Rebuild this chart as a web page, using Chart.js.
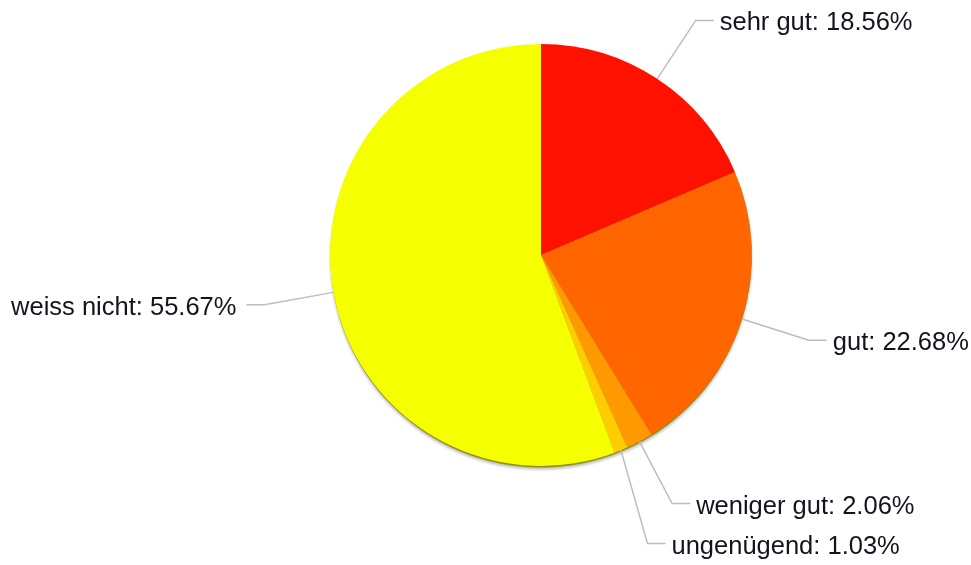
<!DOCTYPE html>
<html>
<head>
<meta charset="utf-8">
<script src="https://cdn.jsdelivr.net/npm/chart.js@4/dist/chart.umd.min.js"></script>
<style>
html,body{margin:0;padding:0;background:#fff;}
#c{display:block;}
</style>
</head>
<body>
<canvas id="c" width="971" height="565"></canvas>
<script>
const categories = ["sehr gut", "gut", "weniger gut", "ungenügend", "weiss nicht"];
const values = [18.56, 22.68, 2.06, 1.03, 55.67];
const colors = ["#ff1100", "#ff6600", "#ff9900", "#ffcc00", "#f5ff00"];

const shadowPlugin = {
  id: 'pieShadow',
  beforeDatasetsDraw(chart) {
    const meta = chart.getDatasetMeta(0);
    if (!meta.data.length) return;
    const a = meta.data[0];
    const ctx = chart.ctx;
    ctx.save();
    ctx.shadowColor = 'rgba(0,0,0,0.3)';
    ctx.shadowBlur = 3;
    ctx.shadowOffsetY = 2;
    ctx.fillStyle = 'rgba(140,140,0,0.9)';
    ctx.beginPath();
    ctx.arc(a.x, a.y + 2, a.outerRadius - 0.5, 0, Math.PI * 2);
    ctx.fill();
    ctx.restore();
  }
};

const labelPlugin = {
  id: 'pieLabels',
  afterDatasetsDraw(chart) {
    const meta = chart.getDatasetMeta(0);
    const ctx = chart.ctx;
    const items = [];
    meta.data.forEach((arc, i) => {
      const mid = (arc.startAngle + arc.endAngle) / 2;
      const R = arc.outerRadius;
      const ex = arc.x + Math.cos(mid) * R;
      const ey = arc.y + Math.sin(mid) * R;
      const kx = arc.x + Math.cos(mid) * (R + 70);
      const ky = arc.y + Math.sin(mid) * (R + 70);
      const right = Math.cos(mid) >= 0;
      items.push({i, ex, ey, kx, ky, right});
    });
    [true, false].forEach(side => {
      const s = items.filter(o => o.right === side).sort((a, b) => a.ky - b.ky);
      for (let k = 1; k < s.length; k++) {
        if (s[k].ky < s[k - 1].ky + 40) s[k].ky = s[k - 1].ky + 40;
      }
    });
    ctx.save();
    ctx.font = '25.5px "Liberation Sans", Arial, sans-serif';
    ctx.textBaseline = 'middle';
    items.forEach(o => {
      const dir = o.right ? 1 : -1;
      ctx.strokeStyle = '#bdbdbd';
      ctx.lineWidth = 1.5;
      ctx.beginPath();
      ctx.moveTo(o.ex, o.ey);
      ctx.lineTo(o.kx, o.ky);
      ctx.lineTo(o.kx + dir * 18, o.ky);
      ctx.stroke();
      ctx.fillStyle = '#141420';
      ctx.textAlign = o.right ? 'left' : 'right';
      const txt = categories[o.i] + ': ' + values[o.i].toFixed(2) + '%';
      ctx.fillText(txt, o.kx + dir * (o.right ? 24 : 28), o.ky + 3);
    });
    ctx.restore();
  }
};

new Chart(document.getElementById('c'), {
  type: 'pie',
  data: {
    labels: categories,
    datasets: [{
      data: values,
      backgroundColor: colors,
      borderWidth: 0,
      hoverOffset: 0,
      offset: 0
    }]
  },
  options: {
    responsive: false,
    devicePixelRatio: 1,
    animation: false,
    layout: { padding: { left: 230, right: 119, top: 44, bottom: 99 } },
    plugins: {
      legend: { display: false },
      tooltip: { enabled: false }
    },
    events: []
  },
  plugins: [shadowPlugin, labelPlugin]
});
</script>
</body>
</html>
